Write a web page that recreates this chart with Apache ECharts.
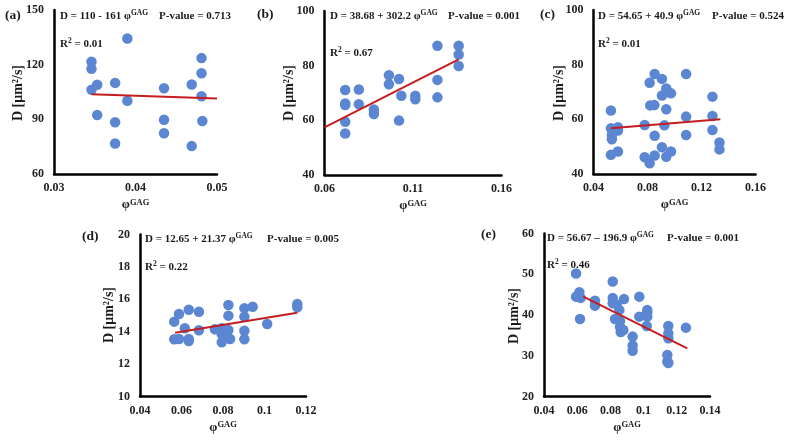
<!DOCTYPE html>
<html>
<head>
<meta charset="utf-8">
<script src="https://cdn.jsdelivr.net/npm/echarts@6/dist/echarts.min.js"></script>
<style>html,body{margin:0;padding:0;background:#fff;}#c{width:787px;height:443px;}</style>
</head>
<body>
<div id="c"></div>
<script>
// ---- Panel (a) ----
const aX = [0.0346,0.0346,0.0346,0.0353,0.0353,0.0375,0.0375,0.0375,0.0390,0.0390,0.0435,0.0435,0.0435,0.0469,0.0469,0.0481,0.0481,0.0481,0.0482];
const aY = [121.6,117.7,106.2,109.0,92.4,110.0,88.4,76.7,134.4,100.2,107.1,89.8,82.4,109.1,75.3,123.6,115.3,102.7,89.1];
const aTrendX = [0.0346,0.05];
const aTrendY = [103.8,101.5];
const aXTicks = [0.03,0.04,0.05];
const aYTicks = [60,90,120,150];
// ---- Panel (b) ----
const bX = [0.0717,0.0717,0.0717,0.0717,0.0717,0.0794,0.0794,0.0879,0.0879,0.0964,0.0964,0.1021,0.1021,0.1034,0.1113,0.1113,0.1238,0.1238,0.1238,0.1358,0.1358,0.1358];
const bY = [71.1,66.2,65.6,59.5,55.2,71.3,65.9,64.0,62.3,76.5,73.2,75.1,59.9,69.0,69.0,67.7,87.3,74.8,68.4,87.3,84.1,79.9];
const bTrendX = [0.06,0.1358];
const bTrendY = [57.4,82.3];
const bXTicks = [0.06,0.11,0.16];
const bYTicks = [40,60,80,100];
// ---- Panel (c) ----
const cX = [0.0529,0.0529,0.0536,0.0536,0.0529,0.0581,0.0581,0.0581,0.0779,0.0779,0.0816,0.0816,0.0820,0.0851,0.0853,0.0853,0.0853,0.0907,0.0907,0.0907,0.0925,0.0939,0.0939,0.0939,0.0949,0.0974,0.0974,0.1086,0.1086,0.1086,0.1281,0.1281,0.1281,0.1333,0.1333];
const cY = [63.2,56.7,54.3,52.7,47.0,57.1,55.9,48.2,57.9,46.1,43.9,73.4,65.1,65.2,76.6,54.0,46.8,74.8,68.7,49.8,57.8,71.3,63.7,46.3,70.0,69.5,48.2,76.6,61.0,54.3,68.3,61.2,56.1,51.5,49.0];
const cTrendX = [0.0529,0.134];
const cTrendY = [56.7,60.0];
const cXTicks = [0.04,0.08,0.12,0.16];
const cYTicks = [40,60,80,100];
// ---- Panel (d) ----
const dX = [0.0565,0.0588,0.0565,0.0588,0.0616,0.0635,0.0635,0.0635,0.0684,0.0684,0.0761,0.0794,0.0794,0.0794,0.0826,0.0826,0.0826,0.0834,0.0903,0.0903,0.0903,0.0903,0.0943,0.1013,0.1158,0.1158];
const dY = [14.62,15.09,13.53,13.55,14.21,15.36,13.55,13.43,15.23,14.09,14.15,14.21,13.84,13.35,15.65,14.99,14.11,13.55,15.44,14.93,14.06,13.53,15.54,14.48,15.71,15.51];
const dTrendX = [0.0569,0.1158];
const dTrendY = [13.94,15.17];
const dXTicks = [0.04,0.06,0.08,0.10,0.12];
const dYTicks = [10,12,14,16,18,20];
// ---- Panel (e) ----
const eX = [0.0593,0.0593,0.0613,0.0621,0.0617,0.0707,0.0707,0.0814,0.0814,0.0814,0.0828,0.0838,0.0854,0.0858,0.0858,0.0862,0.0878,0.0882,0.0934,0.0934,0.0934,0.0974,0.0974,0.1022,0.1022,0.1022,0.1019,0.1149,0.1149,0.1149,0.1143,0.1143,0.1149,0.1255];
const eY = [50.2,44.5,45.6,44.2,39.0,43.5,42.3,48.2,44.2,42.9,39.0,42.6,41.2,38.5,37.1,35.8,36.3,43.9,34.7,32.5,31.2,44.5,39.6,41.2,40.6,39.6,37.3,37.3,35.5,34.3,30.2,28.6,28.2,36.9];
const eTrendX = [0.0637,0.1263];
const eTrendY = [44.5,31.8];
const eXTicks = [0.04,0.06,0.08,0.10,0.12,0.14];
const eYTicks = [20,30,40,50,60];

const panels = [
  {k:'(a)', x:aX, y:aY, tx:aTrendX, ty:aTrendY, xt:aXTicks, yt:aYTicks, eq:['D = 110 - 161 φ','GAG'], p:'P-value = 0.713', r2:'0.01',
   grid:{left:54, top:10, width:163, height:164}, lab:[5,16], eqPos:[60,16], pPos:[159,16], r2Pos:[60,44], yt0:[18.5,93]},
  {k:'(b)', x:bX, y:bY, tx:bTrendX, ty:bTrendY, xt:bXTicks, yt:bYTicks, eq:['D = 38.68 + 302.2 φ','GAG'], p:'P-value = 0.001', r2:'0.67',
   grid:{left:324.5, top:11, width:177, height:164}, lab:[257,15], eqPos:[330,16], pPos:[448,16], r2Pos:[330,53], yt0:[289,93]},
  {k:'(c)', x:cX, y:cY, tx:cTrendX, ty:cTrendY, xt:cXTicks, yt:cYTicks, eq:['D = 54.65 + 40.9 φ','GAG'], p:'P-value = 0.524', r2:'0.01',
   grid:{left:593.5, top:10, width:162, height:164}, lab:[540,15], eqPos:[598,16], pPos:[712,16], r2Pos:[598,44], yt0:[559,93]},
  {k:'(d)', x:dX, y:dY, tx:dTrendX, ty:dTrendY, xt:dXTicks, yt:dYTicks, eq:['D = 12.65 + 21.37 φ','GAG'], p:'P-value = 0.005', r2:'0.22',
   grid:{left:140, top:234.5, width:166, height:162}, lab:[82,237], eqPos:[145,239], pPos:[267,239], r2Pos:[145,267], yt0:[109.5,315]},
  {k:'(e)', x:eX, y:eY, tx:eTrendX, ty:eTrendY, xt:eXTicks, yt:eYTicks, eq:['D = 56.67 – 196.9 φ','GAG'], p:'P-value = 0.001', r2:'0.46',
   grid:{left:544, top:233.5, width:166, height:163}, lab:[481,235], eqPos:[547,238], pPos:[667,238], r2Pos:[547,265], yt0:[514,316]}
];

const FONT = '"Liberation Serif","Times New Roman",serif';
const fmt = v => String(parseFloat(Number(v).toFixed(3)));
const grids=[], xAxes=[], yAxes=[], series=[], graphics=[];
panels.forEach((p,i)=>{
  grids.push(p.grid);
  xAxes.push({type:'value', gridIndex:i, min:p.xt[0], max:p.xt[p.xt.length-1],
    interval:+(p.xt[1]-p.xt[0]).toFixed(4),
    axisLine:{show:true, onZero:false, lineStyle:{color:'#000', width:2.5}},
    axisTick:{show:false}, splitLine:{show:false},
    axisLabel:{formatter:fmt, fontFamily:FONT, fontWeight:'bold', fontSize:12, color:'#222', margin:8},
    name:'{a|φ}{b|GAG}', nameLocation:'middle', nameGap:24,
    nameTextStyle:{rich:{a:{fontFamily:FONT, fontWeight:'bold', fontSize:13, color:'#222', lineHeight:14},
                         b:{fontFamily:FONT, fontWeight:'bold', fontSize:8.5, color:'#222', verticalAlign:'top', lineHeight:14}}}
  });
  yAxes.push({type:'value', gridIndex:i, min:p.yt[0], max:p.yt[p.yt.length-1], interval:p.yt[1]-p.yt[0],
    axisLine:{show:true, onZero:false, lineStyle:{color:'#000', width:2.5}},
    axisTick:{show:false}, splitLine:{show:false},
    axisLabel:{fontFamily:FONT, fontWeight:'bold', fontSize:12, color:'#222', margin:10}
  });
  series.push({type:'scatter', xAxisIndex:i, yAxisIndex:i, symbolSize:10.5,
    itemStyle:{color:'#5b87d2', opacity:1}, data:p.x.map((v,j)=>[v,p.y[j]]), z:2});
  series.push({type:'line', xAxisIndex:i, yAxisIndex:i, symbol:'none', silent:true,
    lineStyle:{color:'#c41e1e', width:2}, data:p.tx.map((v,j)=>[v,p.ty[j]]), z:3});
  const T = (x,y,text,size,extra)=>Object.assign({type:'text', x:x, y:y, silent:true,
      style:Object.assign({text:text, font:'bold '+size+'px '+FONT, fill:'#1a1a1a', verticalAlign:'middle', align:'left'}, extra||{})});
  graphics.push(T(p.lab[0], p.lab[1], p.k, 13.5));
  graphics.push(T(p.eqPos[0], p.eqPos[1], '{m|'+p.eq[0]+'}{s|'+p.eq[1]+'}', 11, {rich:{
      m:{font:'bold 11px '+FONT, fill:'#1a1a1a', lineHeight:13},
      s:{font:'bold 7.5px '+FONT, fill:'#1a1a1a', verticalAlign:'top', lineHeight:13}}}));
  graphics.push(T(p.pPos[0], p.pPos[1], p.p, 11));
  graphics.push(T(p.r2Pos[0], p.r2Pos[1], '{m|R}{s|2}{m| = '+p.r2+'}', 11, {rich:{
      m:{font:'bold 11px '+FONT, fill:'#1a1a1a', lineHeight:13},
      s:{font:'bold 7.5px '+FONT, fill:'#1a1a1a', verticalAlign:'top', lineHeight:13}}}));
  graphics.push(Object.assign(T(p.yt0[0], p.yt0[1], 'D [μm²/s]', 14, {align:'center'}), {rotation:Math.PI/2}));
});

const chart = echarts.init(document.getElementById('c'), null, {renderer:'canvas'});
chart.setOption({animation:false, backgroundColor:'#fff', grid:grids, xAxis:xAxes, yAxis:yAxes, series:series, graphic:graphics});
</script>
</body>
</html>
